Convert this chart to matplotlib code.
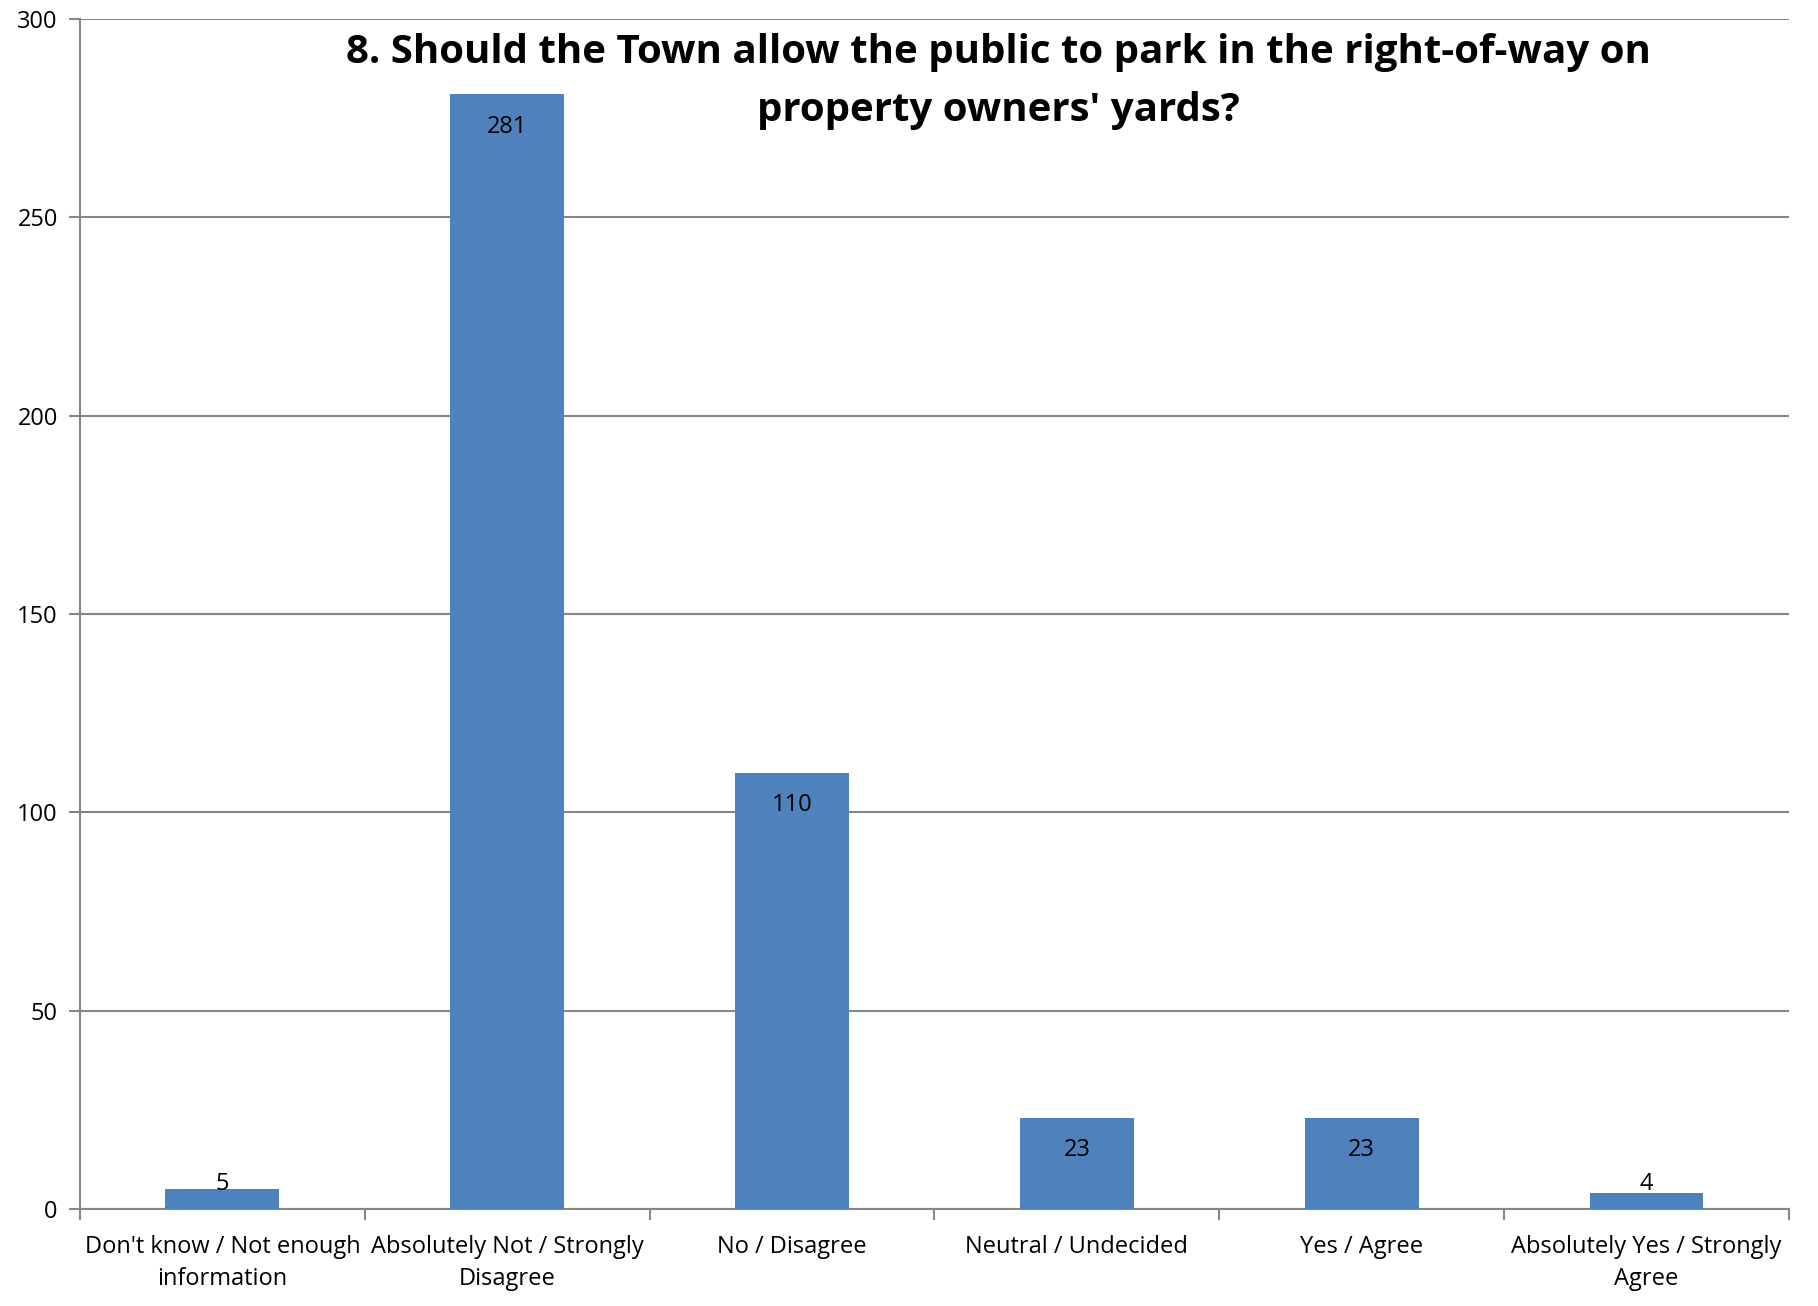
import matplotlib
matplotlib.use('Agg')
import matplotlib.pyplot as plt
import numpy as np

categories = [
    "Don't know / Not enough\ninformation",
    "Absolutely Not / Strongly\nDisagree",
    "No / Disagree",
    "Neutral / Undecided",
    "Yes / Agree",
    "Absolutely Yes / Strongly\nAgree",
]
counts = [5, 281, 110, 23, 23, 4]
title_lines = [
    "8. Should the Town allow the public to park in the right-of-way on",
    "property owners' yards?",
]

BAR_COLOR = '#4F81BD'
GRID_COLOR = '#868686'

plt.rcParams['font.family'] = ['Open Sans', 'DejaVu Sans']


def main():
    fig = plt.figure(figsize=(18.18, 13.06), dpi=100)
    ax = fig.add_axes([0.044, 0.0743, 0.940, 0.9112])

    x = np.arange(len(categories))
    ax.bar(x, counts, width=0.4, color=BAR_COLOR, zorder=3)

    # data labels: inside end, pushed up for very short bars
    for xi, v in zip(x, counts):
        ax.text(xi, max(v - 8.2, 6.2), str(v), ha='center', va='center',
                fontsize=17, color='black', zorder=4)

    ax.set_xlim(-0.5, len(categories) - 0.5)
    ax.set_ylim(0, 300)
    ax.set_yticks(np.arange(0, 301, 50))
    ax.yaxis.grid(True, color=GRID_COLOR, linewidth=1.5, zorder=0)
    ax.set_axisbelow(True)

    ax.set_xticks(x)
    ax.set_xticklabels(categories, fontsize=17, linespacing=1.45)
    ax.set_xticks(np.arange(-0.5, len(categories)), minor=True)
    ax.tick_params(axis='x', which='major', length=0, pad=18.5)
    ax.tick_params(axis='x', which='minor', length=8, width=1.5, color=GRID_COLOR, direction='out')
    ax.tick_params(axis='y', length=8, width=1.5, color=GRID_COLOR, labelsize=17, pad=8)

    for side in ['top', 'right']:
        ax.spines[side].set_visible(False)
    for side in ['left', 'bottom']:
        ax.spines[side].set_color(GRID_COLOR)
        ax.spines[side].set_linewidth(1.5)

    # title, one text per line
    for i, line in enumerate(title_lines):
        fig.text(0.549, 0.960 - i * 0.0443, line, ha='center', va='center',
                 fontsize=29, fontweight='bold')

    fig.savefig('out.png', dpi=100)
    plt.close(fig)


if __name__ == '__main__':
    main()
